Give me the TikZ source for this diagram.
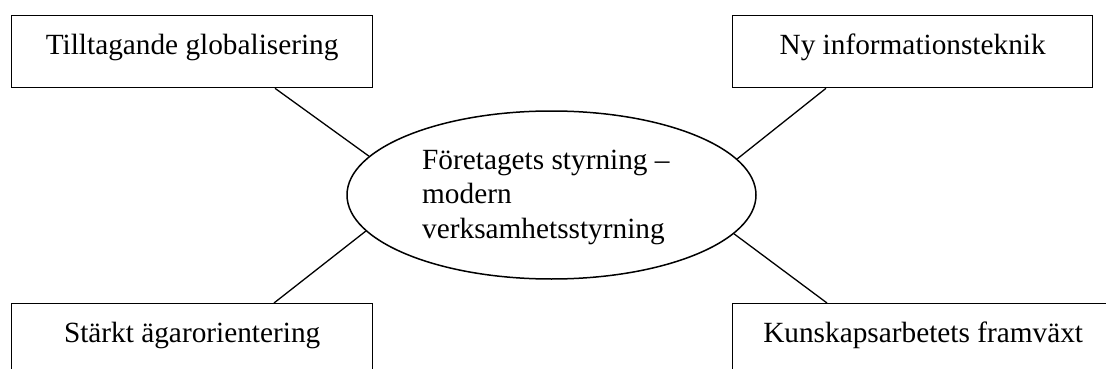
\documentclass[tikz,border=0pt]{standalone}
\usepackage{fontspec}
\setmainfont{Liberation Serif}
\usetikzlibrary{shapes.geometric}
\tikzset{
  factor/.style={draw, line width=1.3pt, rectangle, inner sep=0pt, anchor=north west,
    minimum height=72pt, text height=26pt, text depth=20pt,
    font=\fontsize{29.3}{34.5}\selectfont},
  core/.style={draw, line width=1.5pt, ellipse, inner sep=0pt,
    minimum width=409pt, minimum height=168pt},
  coretext/.style={align=left, anchor=base west, inner sep=0pt,
    font=\fontsize{29.3}{34.5}\selectfont},
  link/.style={line width=1.3pt}
}
\begin{document}
\begin{tikzpicture}[x=1pt,y=-1pt]
\useasboundingbox (0,0) rectangle (1106,369);
\clip (0,0) rectangle (1106,369);
\node[factor, minimum width=361pt] (tl) at (11,15) {Tilltagande globalisering};
\node[factor, minimum width=360pt] (tr) at (732,15) {Ny informationsteknik};
\node[factor, minimum width=361pt] (bl) at (11,303) {Stärkt ägarorientering};
\node[factor, minimum width=381pt] (br) at (732,303) {Kunskapsarbetets framväxt};
\node[core] (c) at (551.5,195) {};
\node[coretext] (ct) at (422,238) {Företagets styrning –\\modern\\verksamhetsstyrning};
\draw[link] ([xshift=264pt]tl.south west) -- (c.168.3);
\draw[link] ([xshift=94pt]tr.south west) -- (c.11.7);
\draw[link] ([xshift=263pt]bl.north west) -- (c.191.7);
\draw[link] ([xshift=95pt]br.north west) -- (c.348.3);
\end{tikzpicture}
\end{document}
